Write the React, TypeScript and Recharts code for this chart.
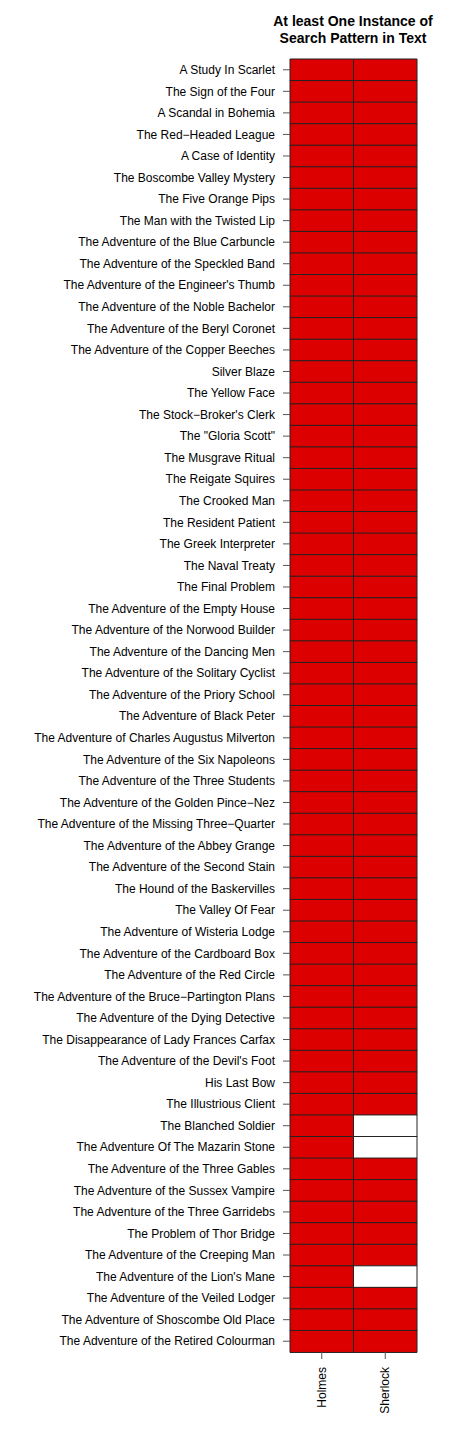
import { BarChart, Bar, XAxis, YAxis, Cell } from "recharts";

const stories = [
  "A Study In Scarlet",
  "The Sign of the Four",
  "A Scandal in Bohemia",
  "The Red\u2212Headed League",
  "A Case of Identity",
  "The Boscombe Valley Mystery",
  "The Five Orange Pips",
  "The Man with the Twisted Lip",
  "The Adventure of the Blue Carbuncle",
  "The Adventure of the Speckled Band",
  "The Adventure of the Engineer's Thumb",
  "The Adventure of the Noble Bachelor",
  "The Adventure of the Beryl Coronet",
  "The Adventure of the Copper Beeches",
  "Silver Blaze",
  "The Yellow Face",
  "The Stock\u2212Broker's Clerk",
  "The \"Gloria Scott\"",
  "The Musgrave Ritual",
  "The Reigate Squires",
  "The Crooked Man",
  "The Resident Patient",
  "The Greek Interpreter",
  "The Naval Treaty",
  "The Final Problem",
  "The Adventure of the Empty House",
  "The Adventure of the Norwood Builder",
  "The Adventure of the Dancing Men",
  "The Adventure of the Solitary Cyclist",
  "The Adventure of the Priory School",
  "The Adventure of Black Peter",
  "The Adventure of Charles Augustus Milverton",
  "The Adventure of the Six Napoleons",
  "The Adventure of the Three Students",
  "The Adventure of the Golden Pince\u2212Nez",
  "The Adventure of the Missing Three\u2212Quarter",
  "The Adventure of the Abbey Grange",
  "The Adventure of the Second Stain",
  "The Hound of the Baskervilles",
  "The Valley Of Fear",
  "The Adventure of Wisteria Lodge",
  "The Adventure of the Cardboard Box",
  "The Adventure of the Red Circle",
  "The Adventure of the Bruce\u2212Partington Plans",
  "The Adventure of the Dying Detective",
  "The Disappearance of Lady Frances Carfax",
  "The Adventure of the Devil's Foot",
  "His Last Bow",
  "The Illustrious Client",
  "The Blanched Soldier",
  "The Adventure Of The Mazarin Stone",
  "The Adventure of the Three Gables",
  "The Adventure of the Sussex Vampire",
  "The Adventure of the Three Garridebs",
  "The Problem of Thor Bridge",
  "The Adventure of the Creeping Man",
  "The Adventure of the Lion's Mane",
  "The Adventure of the Veiled Lodger",
  "The Adventure of Shoscombe Old Place",
  "The Adventure of the Retired Colourman",
];

const patterns = ["Holmes", "Sherlock"];

// 1 = at least one match in the text, 0 = none
const holmesHits = [
  1, 1, 1, 1, 1, 1, 1, 1, 1, 1,
  1, 1, 1, 1, 1, 1, 1, 1, 1, 1,
  1, 1, 1, 1, 1, 1, 1, 1, 1, 1,
  1, 1, 1, 1, 1, 1, 1, 1, 1, 1,
  1, 1, 1, 1, 1, 1, 1, 1, 1, 1,
  1, 1, 1, 1, 1, 1, 1, 1, 1, 1,
];

const sherlockHits = [
  1, 1, 1, 1, 1, 1, 1, 1, 1, 1,
  1, 1, 1, 1, 1, 1, 1, 1, 1, 1,
  1, 1, 1, 1, 1, 1, 1, 1, 1, 1,
  1, 1, 1, 1, 1, 1, 1, 1, 1, 1,
  1, 1, 1, 1, 1, 1, 1, 1, 1, 0,
  0, 1, 1, 1, 1, 1, 0, 1, 1, 1,
];

const rows = stories.map((title, i) => ({
  title,
  holmes: holmesHits[i],
  sherlock: sherlockHits[i],
}));

const RED = "#dd0000";
const FONT = "'Liberation Sans', Arial, Helvetica, sans-serif";

function PatternTick(props: any) {
  const { x, y, payload } = props;
  const label = patterns[Math.floor(payload.value)];
  return (
    <text
      x={x}
      y={y}
      dy="0.35em"
      transform={`rotate(-90, ${x}, ${y})`}
      textAnchor="end"
      fontSize={12}
      fontFamily={FONT}
      fill="#000"
    >
      {label}
    </text>
  );
}

function StoryTick(props: any) {
  const { x, y, payload } = props;
  return (
    <text
      x={x}
      y={y}
      dy="0.35em"
      textAnchor="end"
      fontSize={12}
      fontFamily={FONT}
      fill="#000"
    >
      {payload.value}
    </text>
  );
}

export default function App() {
  return (
    <div
      style={{
        position: "absolute",
        left: 0,
        top: 0,
        width: 475,
        height: 1440,
        background: "#fff",
        fontFamily: FONT,
      }}
    >
      <div
        style={{
          position: "absolute",
          left: 253,
          width: 200,
          top: 13,
          textAlign: "center",
          fontWeight: "bold",
          fontSize: 14,
          lineHeight: "17px",
          color: "#000",
        }}
      >
        At least One Instance of
        <br />
        Search Pattern in Text
      </div>
      <BarChart
        width={475}
        height={1440}
        data={rows}
        layout="vertical"
        barCategoryGap={0}
        margin={{ top: 59, right: 58, bottom: 0, left: 0 }}
      >
        <XAxis
          type="number"
          domain={[0, 2]}
          ticks={[0.5, 1.5]}
          height={88}
          axisLine={false}
          tickSize={7}
          tickMargin={8}
          tickLine={{ stroke: "#555" }}
          tick={<PatternTick />}
          interval={0}
        />
        <YAxis
          type="category"
          dataKey="title"
          width={290}
          axisLine={false}
          tickSize={7}
          tickMargin={8}
          tickLine={{ stroke: "#555" }}
          interval={0}
          tick={<StoryTick />}
        />
        <Bar
          dataKey={() => 1}
          stackId="grid"
          isAnimationActive={false}
          stroke="#222"
          strokeWidth={1}
        >
          {rows.map((r, i) => (
            <Cell key={`h${i}`} fill={r.holmes ? RED : "#fff"} />
          ))}
        </Bar>
        <Bar
          dataKey={() => 1}
          stackId="grid"
          isAnimationActive={false}
          stroke="#222"
          strokeWidth={1}
        >
          {rows.map((r, i) => (
            <Cell key={`s${i}`} fill={r.sherlock ? RED : "#fff"} />
          ))}
        </Bar>
      </BarChart>
    </div>
  );
}
